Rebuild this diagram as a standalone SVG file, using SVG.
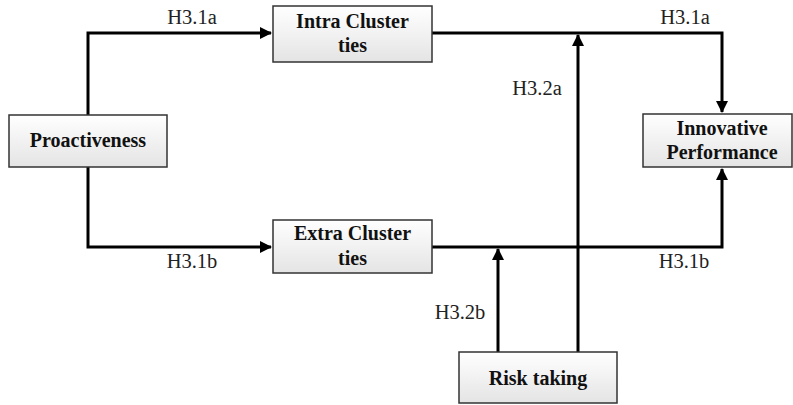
<svg xmlns="http://www.w3.org/2000/svg" width="793" height="405" viewBox="0 0 793 405">
<defs>
<linearGradient id="g" x1="0" y1="0" x2="0" y2="1">
<stop offset="0" stop-color="#ffffff"/>
<stop offset="1" stop-color="#e4e4e4"/>
</linearGradient>
<marker id="ah" markerWidth="12" markerHeight="12" refX="11" refY="6" orient="auto" markerUnits="userSpaceOnUse">
<path d="M0,0 L12,6 L0,12 Z" fill="#000"/>
</marker>
<style>
.box{fill:url(#g);stroke:#333;stroke-width:1.5}
.bt{font-family:"Liberation Serif",serif;font-weight:bold;font-size:20px;fill:#111;text-anchor:middle}
.lb{font-family:"Liberation Serif",serif;font-size:20.5px;fill:#222;text-anchor:middle}
.c{fill:none;stroke:#000;stroke-width:3}
</style>
</defs>
<g id="connectors">
<path class="c" d="M88,115 V33 H271" marker-end="url(#ah)"/>
<path class="c" d="M88,167 V247 H271" marker-end="url(#ah)"/>
<path class="c" d="M432,33 H722 V112" marker-end="url(#ah)"/>
<path class="c" d="M432,247 H722 V169" marker-end="url(#ah)"/>
<path class="c" d="M578,352 V35" marker-end="url(#ah)"/>
<path class="c" d="M498,352 V249" marker-end="url(#ah)"/>
<text class="lb" x="192" y="24">H3.1a</text>
<text class="lb" x="685" y="24">H3.1a</text>
<text class="lb" x="192" y="268">H3.1b</text>
<text class="lb" x="684" y="268">H3.1b</text>
<text class="lb" x="537" y="95">H3.2a</text>
<text class="lb" x="460" y="319">H3.2b</text>
</g>
<g id="proactiveness">
<rect class="box" x="9" y="115" width="158" height="52"/>
<text class="bt" x="88" y="147">Proactiveness</text>
</g>
<g id="intra">
<rect class="box" x="273" y="6" width="159" height="56"/>
<text class="bt" x="352.5" y="28">Intra Cluster</text>
<text class="bt" x="352.5" y="52">ties</text>
</g>
<g id="extra">
<rect class="box" x="273" y="220" width="159" height="53"/>
<text class="bt" x="352.5" y="240">Extra Cluster</text>
<text class="bt" x="352.5" y="265">ties</text>
</g>
<g id="innovative">
<rect class="box" x="643" y="114" width="149" height="53"/>
<text class="bt" x="722" y="135">Innovative</text>
<text class="bt" x="722" y="159">Performance</text>
</g>
<g id="risk">
<rect class="box" x="459" y="352" width="158" height="51"/>
<text class="bt" x="538" y="385">Risk taking</text>
</g>
</svg>
